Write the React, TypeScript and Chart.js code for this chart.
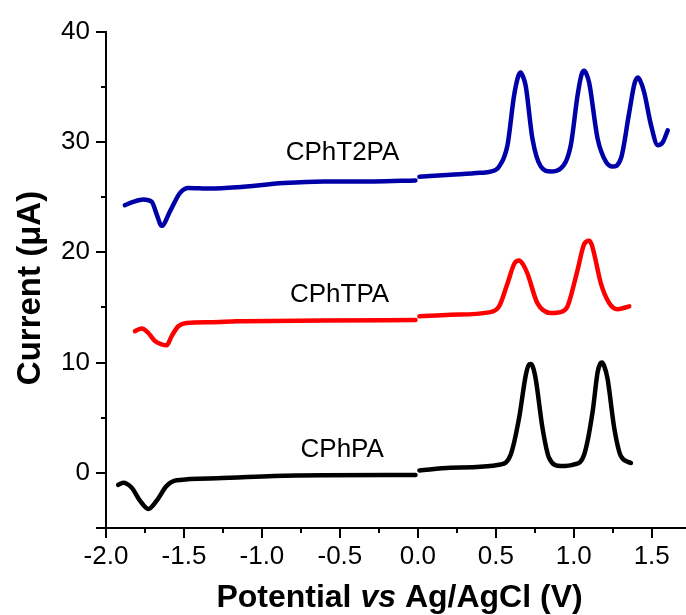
import React, { useEffect, useRef } from "react";
import { Chart, registerables } from "chart.js";

Chart.register(...registerables);

// ---- Data ----
const t2paLeftX = [-1.879, -1.825, -1.761, -1.707, -1.675, -1.643, -1.589, -1.525, -1.472, -1.332, -1.161, -0.861, -0.604, -0.283, -0.015];
const t2paLeftY = [24.27, 24.57, 24.78, 24.57, 23.44, 22.39, 23.73, 25.38, 25.83, 25.77, 25.88, 26.27, 26.42, 26.42, 26.51];
const t2paRightX = [0.01, 0.21, 0.4, 0.467, 0.521, 0.575, 0.617, 0.645, 0.66, 0.675, 0.692, 0.735, 0.789, 0.853, 0.917, 0.981, 1.024, 1.05, 1.067, 1.08, 1.099, 1.153, 1.206, 1.249, 1.303, 1.356, 1.39, 1.41, 1.425, 1.452, 1.496, 1.539, 1.57, 1.603];
const t2paRightY = [26.84, 27.02, 27.2, 27.31, 27.76, 29.7, 34.18, 36.0, 36.3, 35.9, 35.08, 30.3, 27.76, 27.31, 27.6, 29.7, 34.18, 36.1, 36.45, 36.2, 35.37, 30.3, 28.21, 27.76, 28.51, 32.69, 35.3, 35.85, 35.6, 34.48, 31.5, 29.7, 29.95, 31.05];

const tpaLeftX = [-1.814, -1.771, -1.729, -1.686, -1.643, -1.611, -1.579, -1.536, -1.482, -1.332, -1.161, -0.6, -0.015];
const tpaLeftY = [12.85, 13.08, 12.69, 11.95, 11.65, 11.56, 12.4, 13.29, 13.59, 13.65, 13.74, 13.8, 13.85];
const tpaRightX = [0.01, 0.21, 0.456, 0.521, 0.575, 0.62, 0.649, 0.675, 0.703, 0.767, 0.853, 0.92, 0.96, 1.024, 1.067, 1.099, 1.115, 1.131, 1.174, 1.228, 1.281, 1.356];
const tpaRightY = [14.19, 14.33, 14.55, 15.09, 17.17, 19.0, 19.26, 18.9, 18.07, 15.38, 14.49, 14.6, 15.09, 18.36, 20.75, 21.05, 20.7, 19.86, 17.17, 15.38, 14.84, 15.09];

const paLeftX = [-1.922, -1.89, -1.836, -1.782, -1.729, -1.675, -1.611, -1.546, -1.289, -0.925, -0.604, -0.015];
const paLeftY = [-1.09, -0.89, -1.33, -2.52, -3.27, -2.52, -1.18, -0.67, -0.49, -0.29, -0.22, -0.2];
const paRightX = [0.01, 0.21, 0.531, 0.596, 0.649, 0.692, 0.712, 0.724, 0.738, 0.756, 0.8, 0.842, 0.917, 1.003, 1.067, 1.121, 1.153, 1.17, 1.181, 1.195, 1.217, 1.26, 1.303, 1.367];
const paRightY = [0.22, 0.46, 0.76, 1.66, 4.93, 8.82, 9.8, 9.86, 9.6, 8.51, 4.04, 1.35, 0.61, 0.76, 1.66, 5.53, 9.11, 9.9, 10.0, 9.7, 8.51, 4.04, 1.5, 0.9];

const seriesNames = ["CPhT2PA", "CPhTPA", "CPhPA"];
const labelX = [-0.483, -0.502, -0.485];
const labelY = [29.18, 16.39, 2.28];

const xMajorTicks = [-2.0, -1.5, -1.0, -0.5, 0.0, 0.5, 1.0, 1.5];
const xMinorTicks = [-1.75, -1.25, -0.75, -0.25, 0.25, 0.75, 1.25];
const yMajorTicks = [0, 10, 20, 30, 40];
const yMinorTicks = [5, 15, 25, 35];
const yAxisEndTicks = [-5];

const X_MIN = -2.0;
const X_MAX = 1.72;
const Y_MIN = -5;
const Y_MAX = 40;

function joinSegments(lx: number[], ly: number[], rx: number[], ry: number[]) {
  const pts: { x: number; y: number | null }[] = [];
  lx.forEach((x, i) => pts.push({ x, y: ly[i] }));
  pts.push({ x: (lx[lx.length - 1] + rx[0]) / 2, y: null });
  rx.forEach((x, i) => pts.push({ x, y: ry[i] }));
  return pts;
}

const FONT = "'Liberation Sans', Arial, Helvetica, sans-serif";

const decorPlugin = {
  id: "decor",
  afterDraw(chart: any) {
    const ctx = chart.ctx;
    const xs = chart.scales.x;
    const ys = chart.scales.y;
    const area = chart.chartArea;
    ctx.save();
    ctx.strokeStyle = "#000";
    ctx.lineWidth = 2;
    ctx.lineCap = "butt";
    const hTick = (v: number, len: number) => {
      const p = Math.round(xs.getPixelForValue(v));
      ctx.beginPath();
      ctx.moveTo(p, area.bottom - 1);
      ctx.lineTo(p, area.bottom + len);
      ctx.stroke();
    };
    const vTick = (v: number, len: number) => {
      const p = Math.round(ys.getPixelForValue(v));
      ctx.beginPath();
      ctx.moveTo(area.left + 1, p);
      ctx.lineTo(area.left - len, p);
      ctx.stroke();
    };
    xMajorTicks.forEach((v) => hTick(v, 10));
    xMinorTicks.forEach((v) => hTick(v, 5));
    yMajorTicks.forEach((v) => vTick(v, 10));
    yAxisEndTicks.forEach((v) => vTick(v, 10));
    yMinorTicks.forEach((v) => vTick(v, 5));

    // series labels
    ctx.fillStyle = "#000";
    ctx.font = `26px ${FONT}`;
    ctx.textAlign = "center";
    ctx.textBaseline = "alphabetic";
    seriesNames.forEach((name, i) => {
      const px = xs.getPixelForValue(labelX[i]);
      const py = ys.getPixelForValue(labelY[i]);
      ctx.fillText(name, px, py + 9.5);
    });

    // x-axis title with italic "vs"
    const parts = [
      { t: "Potential ", f: `bold 32px ${FONT}` },
      { t: "vs", f: `italic bold 32px ${FONT}` },
      { t: " Ag/AgCl (V)", f: `bold 32px ${FONT}` },
    ];
    let total = 0;
    const widths = parts.map((p) => {
      ctx.font = p.f;
      const w = ctx.measureText(p.t).width;
      total += w;
      return w;
    });
    let x = 399.5 - total / 2;
    ctx.textAlign = "left";
    parts.forEach((p, i) => {
      ctx.font = p.f;
      ctx.fillText(p.t, x, 607);
      x += widths[i];
    });

    // y-axis title
    ctx.save();
    ctx.translate(40, 288);
    ctx.rotate(-Math.PI / 2);
    ctx.font = `bold 33px ${FONT}`;
    ctx.textAlign = "center";
    ctx.fillText("Current (\u03bcA)", 0, 0);
    ctx.restore();

    ctx.restore();
  },
};

export default function App() {
  const ref = useRef<HTMLCanvasElement>(null);
  useEffect(() => {
    if (!ref.current) return;
    const lineStyle = {
      borderWidth: 4.5,
      pointRadius: 0,
      cubicInterpolationMode: "monotone" as const,
      borderCapStyle: "round" as const,
      borderJoinStyle: "round" as const,
      spanGaps: false,
      fill: false,
    };
    const chart = new Chart(ref.current, {
      type: "line",
      data: {
        datasets: [
          { label: seriesNames[0], data: joinSegments(t2paLeftX, t2paLeftY, t2paRightX, t2paRightY), borderColor: "#0000A8", ...lineStyle },
          { label: seriesNames[1], data: joinSegments(tpaLeftX, tpaLeftY, tpaRightX, tpaRightY), borderColor: "#FF0000", ...lineStyle },
          { label: seriesNames[2], data: joinSegments(paLeftX, paLeftY, paRightX, paRightY), borderColor: "#000000", ...lineStyle },
        ] as any,
      },
      options: {
        animation: false,
        responsive: false,
        devicePixelRatio: 1,
        layout: { padding: { left: 0, right: 0, top: 25, bottom: 0 } },
        plugins: { legend: { display: false }, tooltip: { enabled: false } },
        scales: {
          x: {
            type: "linear",
            min: X_MIN,
            max: X_MAX,
            afterFit: (s: any) => { s.height = 87; },
            afterBuildTicks: (s: any) => { s.ticks = xMajorTicks.map((v) => ({ value: v })); },
            grid: { display: false, drawTicks: false },
            border: { display: true, color: "#000", width: 2 },
            ticks: {
              color: "#000",
              font: { family: FONT, size: 26 },
              padding: 13,
              maxRotation: 0,
              autoSkip: false,
              callback: (v: any) => Number(v).toFixed(1),
            },
          },
          y: {
            type: "linear",
            min: Y_MIN,
            max: Y_MAX,
            afterFit: (s: any) => { s.width = 106; },
            afterBuildTicks: (s: any) => { s.ticks = yMajorTicks.map((v) => ({ value: v })); },
            grid: { display: false, drawTicks: false },
            border: { display: true, color: "#000", width: 2 },
            ticks: {
              color: "#000",
              font: { family: FONT, size: 26 },
              padding: 16,
              autoSkip: false,
              callback: (v: any) => String(v),
            },
          },
        },
      },
      plugins: [decorPlugin],
    });
    return () => chart.destroy();
  }, []);
  return (
    <div style={{ position: "fixed", left: 0, top: 0, width: 686, height: 615, background: "#fff" }}>
      <canvas ref={ref} width={686} height={615} />
    </div>
  );
}
